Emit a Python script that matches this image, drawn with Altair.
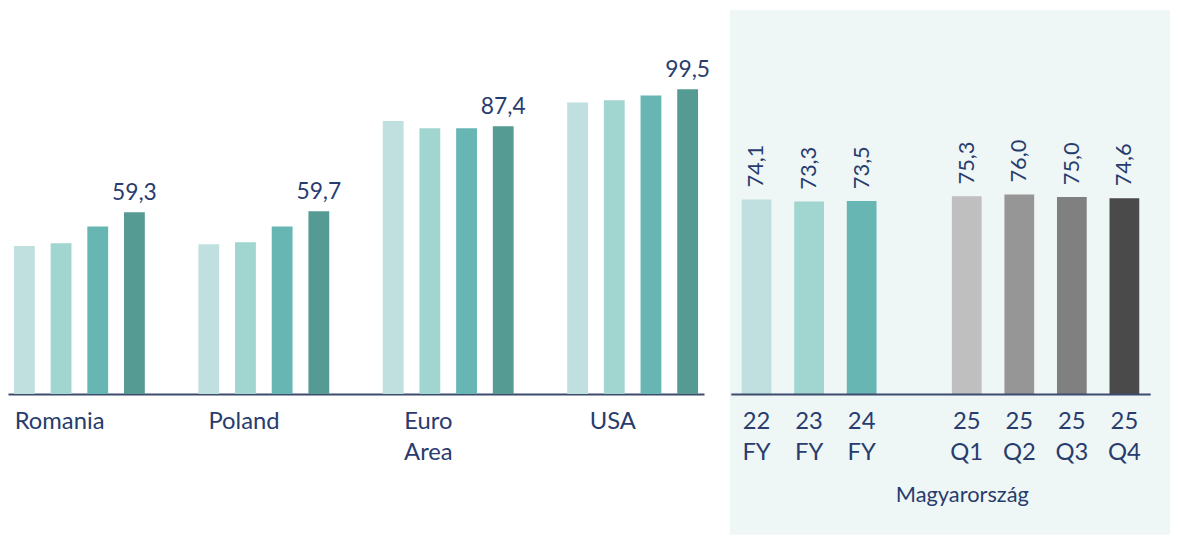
import altair as alt
import pandas as pd

# ---- data ----
countries = ["Romania", "Poland", "Euro Area", "USA"]
series = ["2022", "2023", "2024", "2025"]
romania = [48.3, 49.2, 54.7, 59.3]
poland = [48.9, 49.5, 54.7, 59.7]
euro_area = [89.1, 86.8, 86.8, 87.4]
usa = [95.2, 95.9, 97.5, 99.5]
series_colors = ["#BFE0DF", "#A0D5D0", "#67B6B3", "#569A94"]

hu_periods = ["22 FY", "23 FY", "24 FY", "25 Q1", "25 Q2", "25 Q3", "25 Q4"]
hu_values = [74.1, 73.3, 73.5, 75.3, 76.0, 75.0, 74.6]
hu_colors = ["#BFE0DF", "#A0D5D0", "#67B6B3", "#BFBFBF", "#969696", "#808080", "#4A4A4A"]
hu_domain = ["22 FY", "23 FY", "24 FY", "gap", "25 Q1", "25 Q2", "25 Q3", "25 Q4"]

NAVY = "#283C6E"
AXIS = "#3C4B6E"
BG = "#EFF7F6"
FONT = "Lato"


def fmt(v):
    return f"{v:.1f}".replace(".", ",")


rows = []
for c, vals in zip(countries, [romania, poland, euro_area, usa]):
    for s, v in zip(series, vals):
        rows.append({"country": c, "series": s, "value": v, "label": fmt(v)})
df_l = pd.DataFrame(rows)

df_r = pd.DataFrame({"period": hu_periods, "value": hu_values,
                     "label": [fmt(v) for v in hu_values]})

# ---- left panel ----
x_l = alt.X("country:N", sort=countries,
            scale=alt.Scale(paddingInner=0.2903, paddingOuter=0.0323),
            axis=alt.Axis(title=None, labelExpr="split(datum.value, ' ')",
                          labelOffset=-20, labelPadding=16, labelFontSize=24,
                          labelFont=FONT, labelColor=NAVY, labelAngle=0,
                          labelBaseline="top", labelLineHeight=31,
                          ticks=False, tickSize=0, domainColor=AXIS, domainWidth=2,
                          grid=False))
xo_l = alt.XOffset("series:N", sort=series,
                   scale=alt.Scale(paddingInner=0.4324, paddingOuter=0))
y_l = alt.Y("value:Q", scale=alt.Scale(domain=[0, 125.3], nice=False), axis=None)

base_l = alt.Chart(df_l)
bars_l = base_l.mark_bar().encode(
    x=x_l, xOffset=xo_l, y=y_l,
    color=alt.Color("series:N", scale=alt.Scale(domain=series, range=series_colors), legend=None),
)
text_l = base_l.transform_filter("datum.series == '2025'").mark_text(
    baseline="alphabetic", dy=-12, fontSize=23, font=FONT, color=NAVY
).encode(x=x_l, xOffset=xo_l, y=y_l, text="label:N")

left = alt.layer(bars_l, text_l).properties(
    width=702, height=387, view=alt.ViewBackground(strokeWidth=0, stroke="transparent")
)

# ---- right panel ----
x_r = alt.X("period:N",
            scale=alt.Scale(domain=hu_domain, paddingInner=0.434, paddingOuter=0.2075),
            axis=alt.Axis(title="Magyarország", titleX=233, titleY=108,
                          titleBaseline="alphabetic", titleAlign="center",
                          titleFontSize=22, titleFont=FONT, titleColor=NAVY,
                          titleFontWeight="normal",
                          labelExpr="datum.value == 'gap' ? '' : split(datum.value, ' ')",
                          labelPadding=16, labelFontSize=24, labelFont=FONT,
                          labelColor=NAVY, labelAngle=0, labelBaseline="top",
                          labelLineHeight=31, ticks=False, tickSize=0,
                          domainColor=AXIS, domainWidth=2, grid=False, zindex=1))
y_r = alt.Y("value:Q", scale=alt.Scale(domain=[0, 146.2], nice=False), axis=None)

bg = alt.Chart(pd.DataFrame({"a": [0]})).mark_rect(color=BG).encode(
    x=alt.value(-1), x2=alt.value(443), y=alt.value(0), y2=alt.value(529)
)
base_r = alt.Chart(df_r)
bars_r = base_r.mark_bar().encode(
    x=x_r, y=y_r,
    color=alt.Color("period:N", scale=alt.Scale(domain=hu_periods, range=hu_colors), legend=None),
)
text_r = base_r.mark_text(
    angle=270, align="left", baseline="middle", dx=12, fontSize=22, font=FONT, color=NAVY
).encode(x=x_r, y=y_r, text="label:N")

right = alt.layer(bg, bars_r, text_r).properties(
    width=423, height=387, view=alt.ViewBackground(strokeWidth=0, stroke="transparent")
)

chart = (
    alt.hconcat(left, right, spacing=27, bounds="flush")
    .resolve_scale(color="independent", x="independent", y="independent")
    .properties(padding=0)
    .configure_view(stroke="transparent", strokeWidth=0)
    .configure(background="white")
)

chart.save("out.html", embed_options={"renderer": "svg", "actions": False})
